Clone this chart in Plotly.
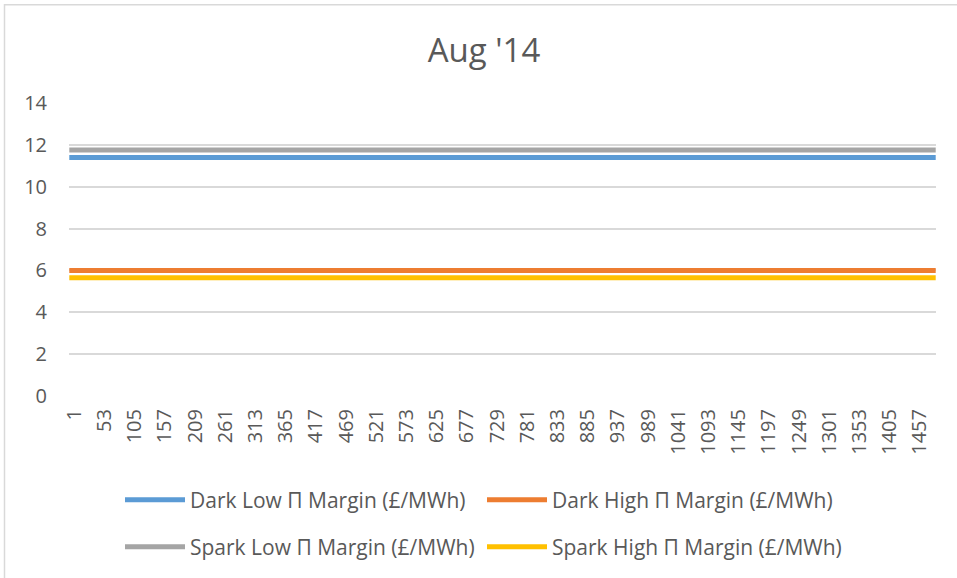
import plotly.graph_objects as go

# half-hourly periods on the category axis (last label 1457, axis runs to ~1493)
n_periods = 1493
periods = list(range(1, n_periods + 1))

# margins (flat for the whole month)
dark_low = [11.4] * n_periods
dark_high = [6.0] * n_periods
spark_low = [11.75] * n_periods
spark_high = [5.65] * n_periods

tick_labels = [1, 53, 105, 157, 209, 261, 313, 365, 417, 469, 521, 573, 625, 677,
               729, 781, 833, 885, 937, 989, 1041, 1093, 1145, 1197, 1249, 1301,
               1353, 1405, 1457]

series = [
    ("Dark Low \u03a0 Margin (\u00a3/MWh)", dark_low, "#5B9BD5", "legend"),
    ("Dark High \u03a0 Margin (\u00a3/MWh)", dark_high, "#ED7D31", "legend"),
    ("Spark Low \u03a0 Margin (\u00a3/MWh)", spark_low, "#A5A5A5", "legend2"),
    ("Spark High \u03a0 Margin (\u00a3/MWh)", spark_high, "#FFC000", "legend2"),
]

W, H = 957, 578
L, R, T, B = 69, 21, 103, 181
pw, ph = W - L - R, H - T - B


def px_x(x):
    return (x - L) / pw


def px_y(y):
    return (H - B - y) / ph


font = "Open Sans"
grey = "#595959"

fig = go.Figure()
for name, vals, color, leg in series:
    fig.add_trace(go.Scatter(x=periods, y=vals, name=name, mode="lines",
                             line=dict(color=color, width=5), legend=leg))

legend_style = dict(orientation="h", xanchor="left", yanchor="middle",
                    itemwidth=60, entrywidth=287, entrywidthmode="pixels",
                    font=dict(family=font, size=21, color=grey),
                    bgcolor="rgba(0,0,0,0)")

fig.update_layout(
    width=W, height=H,
    margin=dict(l=L, r=R, t=T, b=B),
    paper_bgcolor="white", plot_bgcolor="white",
    font=dict(family=font, color=grey),
    title=dict(text="Aug '14", x=484 / W, xanchor="center", y=1 - 50 / H, yanchor="middle",
               font=dict(family=font, size=33, color=grey)),
    legend=dict(x=px_x(120), y=px_y(500), **legend_style),
    legend2=dict(x=px_x(120), y=px_y(547), **legend_style),
    xaxis=dict(range=[0.5, n_periods + 0.5], tickvals=tick_labels,
               ticktext=[str(t) for t in tick_labels], tickangle=-90,
               showgrid=False, zeroline=False, showline=False,
               tickfont=dict(family=font, size=20, color=grey),
               ticklabelstandoff=8, ticklabelshift=5),
    yaxis=dict(range=[0, 14], dtick=2, showgrid=True, gridcolor="#D9D9D9", gridwidth=1.5,
               zeroline=False, showline=False,
               tickfont=dict(family=font, size=20, color=grey), ticklabelstandoff=21),
    shapes=[dict(type="rect", xref="paper", yref="paper",
                 x0=px_x(4.5), x1=px_x(W + 50), y0=px_y(H + 50), y1=px_y(4.5),
                 line=dict(color="#D9D9D9", width=1.5), layer="below")],
)

# drop the default page margin so the chart sits at the window's corner
fig.write_html("out.html", config={"displayModeBar": False},
               post_script="document.body.style.margin='0';")
